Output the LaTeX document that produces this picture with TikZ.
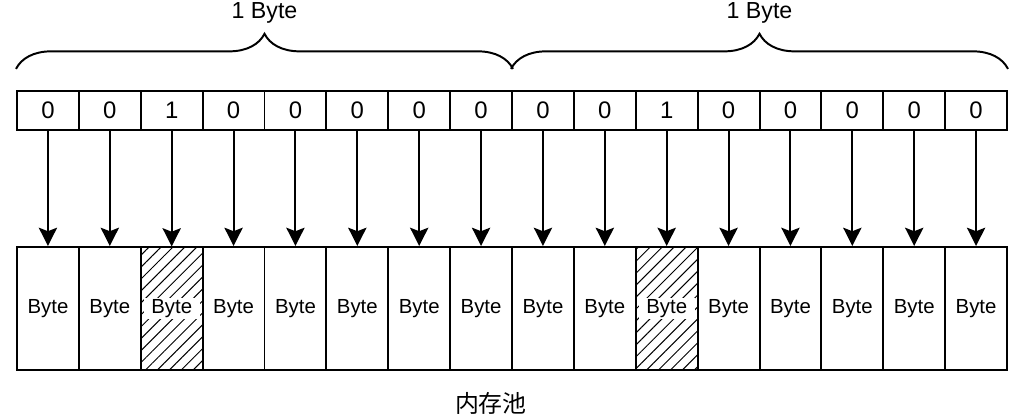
\documentclass[tikz,border=0pt]{standalone}
\usepackage{fontspec}
\setmainfont{Liberation Sans}
\newfontfamily\cjkfont{Noto Sans CJK SC}
\usetikzlibrary{arrows.meta,decorations.pathreplacing,patterns.meta,positioning}
\tikzset
{
    bitcell/.style   = {rectangle, draw=black, line width=1.4pt, minimum width=1.547cm, minimum height=0.975cm, inner sep=0pt, font=\fontsize{17}{19}\selectfont},
    bytecell/.style  = {rectangle, draw=black, line width=1.4pt, minimum width=1.547cm, minimum height=3.075cm, inner sep=0pt, font=\fontsize{14.5}{16}\selectfont},
    hatchcell/.style = {bytecell, pattern={Lines[angle=45, distance=6pt, line width=0.7pt]}, path picture={\fill[white] ([shift={(-20pt,-7.5pt)}]path picture bounding box.center) rectangle ++(40pt,15pt);}},
    bitarrow/.style  = {-{Stealth[length=13pt, width=13pt, inset=2.5pt]}, line width=1.4pt},
    bytebrace/.style = {decorate, decoration={brace, amplitude=25pt, raise=15pt}, line width=1.4pt},
    bracelabel/.style = {anchor=base, yshift=51pt, font=\fontsize{16.5}{19}\selectfont}
}

\begin{document}
\begin{tikzpicture}[x=0.025cm, y=-0.025cm]
\useasboundingbox (0,0) rectangle (1024,420);

\foreach \i/\b/\s in {1/0/bytecell, 2/0/bytecell, 3/1/hatchcell, 4/0/bytecell, 5/0/bytecell, 6/0/bytecell, 7/0/bytecell, 8/0/bytecell,
                      9/0/bytecell, 10/0/bytecell, 11/1/hatchcell, 12/0/bytecell, 13/0/bytecell, 14/0/bytecell, 15/0/bytecell, 16/0/bytecell}
{
    \node (t\i)[bitcell] at ({17+61.875*(\i-0.5)}, 110.5) {\b};
    \node (c\i)[\s]      at ({17+61.875*(\i-0.5)}, 308.5) {Byte};
    \draw[bitarrow] (t\i) -- (c\i);
}

\draw[bytebrace] (t1.north west) -- node[bracelabel] {1 Byte} (t8.north east);
\draw[bytebrace] (t9.north west) -- node[bracelabel] {1 Byte} (t16.north east);

\node (pool)[font=\cjkfont\fontsize{17}{20}\selectfont] at ([xshift=7pt, yshift=-23pt]c8.south) {内存池};

\end{tikzpicture}
\end{document}
